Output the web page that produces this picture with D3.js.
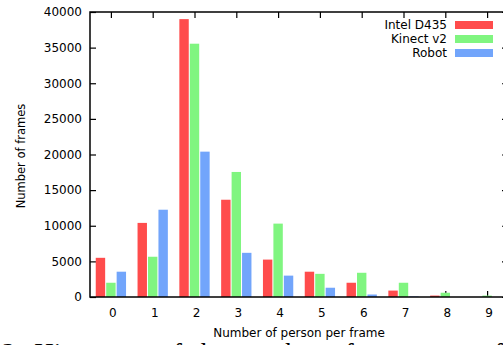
<!DOCTYPE html>
<html>
<head>
<meta charset="utf-8">
<script src="https://cdn.jsdelivr.net/npm/d3@7"></script>
<style>
  body { margin: 0; background: #fff; overflow: hidden; }
  svg { display: block; }
  text { font-family: "DejaVu Sans", sans-serif; fill: #000; }
  .caption { font-family: "Liberation Serif", serif; }
</style>
</head>
<body>
<div id="chart"></div>
<script>
// Data
var categories = [0, 1, 2, 3, 4, 5, 6, 7, 8, 9];
var seriesNames = ["Intel D435", "Kinect v2", "Robot"];
var intelD435 = [5500, 10400, 39000, 13650, 5250, 3550, 2000, 900, 200, 0];
var kinectV2 = [2000, 5650, 35550, 17550, 10300, 3250, 3400, 2000, 600, 200];
var robot = [3550, 12250, 20400, 6200, 3000, 1300, 350, 80, 0, 0];
var yTicks = [0, 5000, 10000, 15000, 20000, 25000, 30000, 35000, 40000];
var colors = ["#ff4c4c", "#80f580", "#72a5fb"];

var svgWidth = 503;
var svgHeight = 345;

// plot frame (right border falls just past the window)
var plotLeft = 90, plotRight = 508, plotTop = 12, plotBottom = 297;

var svg = d3.select("#chart")
    .append("svg")
    .attr("width", svgWidth)
    .attr("height", svgHeight);

var x = d3.scaleLinear().domain([-0.5, 9.5]).range([plotLeft, plotRight]);
var y = d3.scaleLinear().domain([0, 40000]).range([plotBottom, plotTop]);

// Axes first (bars cover the ticks): inward ticks, mirrored on top and right
var bottomAxis = d3.axisBottom(x).tickValues(categories)
    .tickSizeInner(-6).tickSizeOuter(0).tickPadding(11.5);
var topAxis = d3.axisTop(x).tickValues(categories)
    .tickSizeInner(-6).tickSizeOuter(0).tickFormat("");
var leftAxis = d3.axisLeft(y).tickValues(yTicks)
    .tickSizeInner(-6).tickSizeOuter(0).tickPadding(8).tickFormat(d3.format("d"));
var rightAxis = d3.axisRight(y).tickValues(yTicks)
    .tickSizeInner(-6).tickSizeOuter(0).tickFormat("");

function styleAxis(g) {
    g.select(".domain").remove();
    g.selectAll("line").attr("stroke", "#000").attr("stroke-width", 1.2);
    g.selectAll("text").style("font-size", "12px")
        .style("font-family", "DejaVu Sans, sans-serif");
}

svg.append("g").attr("transform", "translate(0," + plotBottom + ")").call(bottomAxis).call(styleAxis)
    .selectAll("text").attr("dx", 1.5);
svg.append("g").attr("transform", "translate(0," + plotTop + ")").call(topAxis).call(styleAxis);
svg.append("g").attr("transform", "translate(" + plotLeft + ",0)").call(leftAxis).call(styleAxis);
svg.append("g").attr("transform", "translate(" + plotRight + ",0)").call(rightAxis).call(styleAxis);

// three bars per category, each a quarter unit wide
var slot = 0.25;
var seriesData = [intelD435, kinectV2, robot];

seriesData.forEach(function (vals, j) {
    svg.append("g")
        .selectAll("rect")
        .data(categories)
        .enter()
        .append("rect")
        .attr("x", function (c) { return x(c + (j - 1) * slot - slot * 0.45); })
        .attr("width", x(slot * 0.9) - x(0))
        .attr("y", function (c, i) { return y(vals[i]); })
        .attr("height", function (c, i) { return y(0) - y(vals[i]); })
        .style("fill", colors[j]);
});

// border
svg.append("rect")
    .attr("x", plotLeft).attr("y", plotTop)
    .attr("width", plotRight - plotLeft).attr("height", plotBottom - plotTop)
    .style("fill", "none").style("stroke", "#000").style("stroke-width", 1.5);

// axis labels
svg.append("text")
    .attr("transform", "translate(25, 156) rotate(-90)")
    .attr("text-anchor", "middle")
    .style("font-size", "11.5px")
    .text("Number of frames");

svg.append("text")
    .attr("x", 299).attr("y", 337)
    .attr("text-anchor", "middle")
    .style("font-size", "12px")
    .text("Number of person per frame");

// legend
var legend = svg.append("g");
seriesNames.forEach(function (name, j) {
    var ry = 21 + j * 14;
    legend.append("text")
        .attr("x", 447).attr("y", ry + 8.3)
        .attr("text-anchor", "end")
        .style("font-size", "12px")
        .text(name);
    legend.append("rect")
        .attr("x", 455).attr("y", ry)
        .attr("width", 38).attr("height", 8)
        .style("fill", colors[j]);
});

// caption of the page, mostly cut off below the window
svg.append("text")
    .attr("class", "caption")
    .attr("x", 2).attr("y", 361.5)
    .style("font-size", "27px")
    .style("word-spacing", "4.5px")
    .text("2: Histogram of the number of person per frame");
</script>
</body>
</html>
